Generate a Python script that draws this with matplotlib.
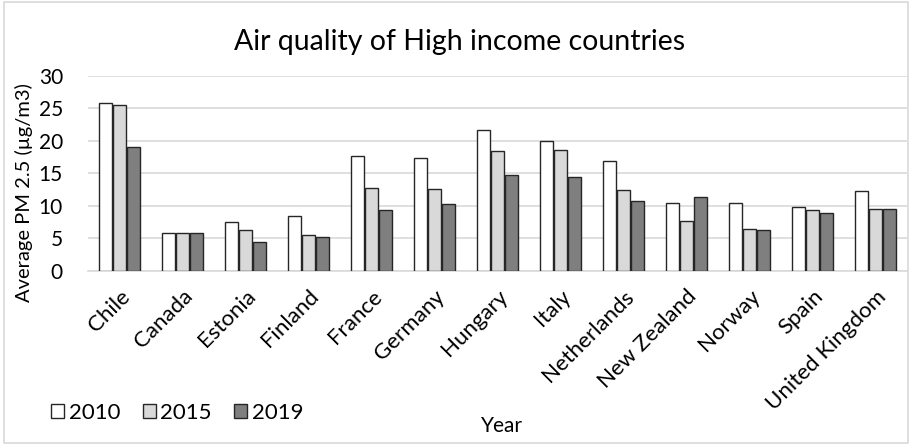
import matplotlib
matplotlib.use("Agg")
import matplotlib.pyplot as plt
import numpy as np
from matplotlib.patches import Rectangle

plt.rcParams["font.family"] = ["Lato", "DejaVu Sans"]

# -------- Data --------
countries = ["Chile", "Canada", "Estonia", "Finland", "France", "Germany", "Hungary",
             "Italy", "Netherlands", "New Zealand", "Norway", "Spain", "United Kingdom"]
pm_2010 = [25.8, 5.9, 7.6, 8.5, 17.7, 17.3, 21.6, 20.0, 16.9, 10.5, 10.4, 9.8, 12.3]
pm_2015 = [25.5, 5.8, 6.3, 5.6, 12.7, 12.6, 18.5, 18.6, 12.4, 7.7, 6.4, 9.4, 9.6]
pm_2019 = [19.0, 5.9, 4.5, 5.2, 9.4, 10.3, 14.7, 14.4, 10.8, 11.3, 6.3, 8.9, 9.5]
years = ["2010", "2015", "2019"]
colors = ["#ffffff", "#d9d9d9", "#7f7f7f"]

# -------- Chart --------
fig = plt.figure(figsize=(9.12, 4.44), dpi=100)
ax = fig.add_axes([88 / 912, 1 - 271 / 444, 819 / 912, 195.3 / 444])

x = np.arange(len(countries))
width = 0.2
offset = 0.222
for i, (vals, c) in enumerate(zip([pm_2010, pm_2015, pm_2019], colors)):
    ax.bar(x + (i - 1) * offset, vals, width, color=c, edgecolor="#262626",
           linewidth=1.0, label=years[i], zorder=3)

ax.set_xlim(-0.5, len(countries) - 0.5)
ax.set_ylim(0, 30)
ax.set_yticks(range(0, 31, 5))
ax.yaxis.grid(True, color="#d9d9d9", linewidth=1.2, zorder=0)
ax.tick_params(axis="both", length=0, colors="#000000")
ax.tick_params(axis="y", pad=18, labelsize=15)
for s in ["top", "right", "left"]:
    ax.spines[s].set_visible(False)
ax.spines["bottom"].set_color("#d9d9d9")
ax.spines["bottom"].set_linewidth(1.2)

ax.set_xticks(x)
ax.set_xticklabels(countries, rotation=45, ha="right", va="top",
                   rotation_mode="anchor", fontsize=16)
ax.tick_params(axis="x", pad=11)

fig.text(24 / 912, 1 - 193 / 444, "Average PM 2.5 (µg/m3)", rotation=90,
         ha="center", va="center", fontsize=14.5)
fig.text(502 / 912, 1 - 426 / 444, "Year", ha="center", va="center", fontsize=15)
fig.text(460 / 912, 1 - 42 / 444, "Air quality of High income countries",
         ha="center", va="center", fontsize=20.5)

fig.legend(loc="center left", bbox_to_anchor=(51 / 912, 1 - 413 / 444), ncol=3,
           frameon=False, fontsize=16, handlelength=0.6, handleheight=0.6,
           handletextpad=0.2, columnspacing=1.0, borderaxespad=0, borderpad=0)

# outer chart border
fig.patches.append(Rectangle((4 / 912, 1 / 444), 904 / 912, 441 / 444,
                             transform=fig.transFigure, fill=False,
                             edgecolor="#d9d9d9", linewidth=1.2))

fig.savefig("out.png", dpi=100)
